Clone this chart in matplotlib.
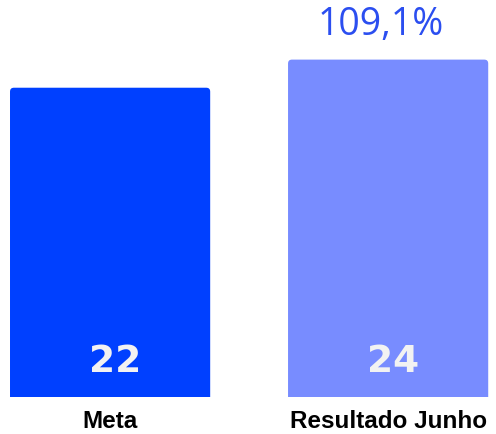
import matplotlib
matplotlib.use("Agg")
import matplotlib.pyplot as plt
from matplotlib.patches import FancyBboxPatch

categories = ["Meta", "Resultado Junho"]
values = [22, 24]
colors = ["#0040ff", "#788cff"]
pct_label = "109,1%"

fig = plt.figure(figsize=(4.96, 4.34), dpi=100)
ax = fig.add_axes([0, 1 - 397 / 434, 1, 397 / 434])
ax.set_xlim(-0.396, 1.388)
ax.set_ylim(0, 28.24)
ax.axis("off")

width = 0.72
bars = ax.bar(range(len(values)), values, width=width, color=colors)
for b in bars:
    b.set_visible(False)
    x0, w, h = b.get_x(), b.get_width(), b.get_height()
    p = FancyBboxPatch((x0, -1), w, h + 1,
                       boxstyle="round,pad=0,rounding_size=0.014",
                       mutation_aspect=19.8, facecolor=b.get_facecolor(),
                       edgecolor="none", clip_on=True)
    ax.add_patch(p)

for i, v in enumerate(values):
    ax.annotate(str(v), (i, 2.7), xytext=(3.5, -2), textcoords="offset points",
                ha="center", va="center", color="#f2f2f2", fontsize=27,
                fontweight="bold", family="DejaVu Sans")
    ax.annotate(categories[i], (i, 0), xytext=(0, -22.5), textcoords="offset points",
                ha="center", va="baseline", color="black", fontsize=17.5,
                fontweight="bold", family="Liberation Sans", annotation_clip=False)

ax.annotate(pct_label, (1, values[1]), xytext=(-5, 25), textcoords="offset points",
            ha="center", va="center", color="#2b4ef0", fontsize=27,
            family="Open Sans")

fig.savefig("out.png", dpi=100)
